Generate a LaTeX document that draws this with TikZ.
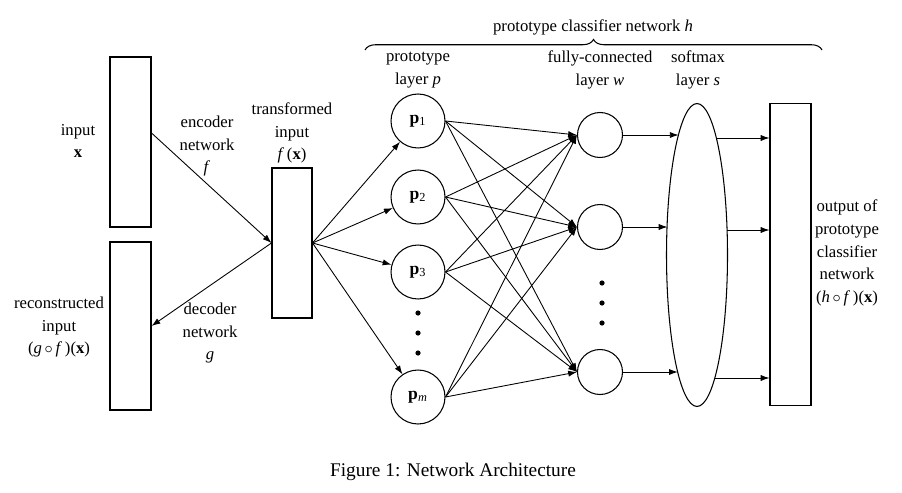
\documentclass[tikz,border=0pt]{standalone}
\usepackage{fontspec}
\setmainfont{Liberation Serif}
\usetikzlibrary{arrows.meta,shapes.geometric,decorations.pathreplacing,calc}

\begin{document}
\begin{tikzpicture}[x=0.02cm,y=-0.02cm]
	\tikzstyle{txt} = [align=center, font=\fontsize{9.5}{13}\selectfont, inner sep=0]
	\tikzstyle{box} = [draw, line width=0.6pt, minimum width=0.82cm, inner sep=0]
	\tikzstyle{proto} = [draw, circle, line width=0.6pt, minimum size=1.08cm, inner sep=0, font=\fontsize{10}{12}\selectfont]
	\tikzstyle{unit} = [draw, circle, line width=0.6pt, minimum size=0.9cm, inner sep=0]
	\tikzstyle{edge} = [draw, line width=0.5pt, -{Latex[length=5pt,width=3.5pt]}]
	\useasboundingbox (0,0) rectangle (902,493);

	% input, code and reconstruction
	\node[box, minimum height=3.4cm] (in) at (130.5,142) {};
	\node[box, minimum height=3.36cm] (rec) at (130.5,326) {};
	\node[box, minimum width=0.8cm, minimum height=3cm] (tr) at (292,243) {};
	\node[txt] (inlab) at (78,141) {input\\\textbf{x}};
	\node[txt] (reclab) at (59,327) {reconstructed\\input\\(\textit{g}\,$\circ$\,\textit{f}\,)(\textbf{x})};
	\node[txt] (enclab) at (207,146) {encoder\\network\\\textit{f}};
	\node[txt] (declab) at (210,333) {decoder\\network\\\textit{g}};
	\node[txt] (trlab) at (292,133) {transformed\\input\\\textit{f}\,(\textbf{x})};

	% prototype layer
	\node[proto] (p1) at (418,121) {\textbf{p}\textsubscript{1}};
	\node[proto] (p2) at (418,197) {\textbf{p}\textsubscript{2}};
	\node[proto] (p3) at (418,272) {\textbf{p}\textsubscript{3}};
	\node[proto] (pm) at (418,397) {\textbf{p}\textsubscript{\textit{m}}};
	\foreach \y in {313,333,353}
		\fill (418,\y) circle (2.6);

	% fully-connected layer
	\node[unit] (w1) at (600,135) {};
	\node[unit] (w2) at (600,227) {};
	\node[unit] (w3) at (600,372) {};
	\foreach \y in {283,303,323}
		\fill (602,\y) circle (2.6);

	% softmax and output
	\node[draw, ellipse, line width=0.6pt, minimum width=1.22cm, minimum height=6.06cm, inner sep=0] (s) at (697,255) {};
	\node[box, minimum height=6.06cm] (out) at (790.5,254.5) {};

	\node[txt] (plab) at (418,70) {prototype\\layer \textit{p}};
	\node[txt] (wlab) at (600,70) {fully-connected\\layer \textit{w}};
	\node[txt] (slab) at (698,70) {softmax\\layer \textit{s}};
	\node[txt] (outlab) at (847,253) {output of\\prototype\\classifier\\network\\(\textit{h}\,$\circ$\,\textit{f}\,)(\textbf{x})};
	\node[txt] (hlab) at (593,27) {prototype classifier network \textit{h}};
	\draw[line width=0.6pt, decorate, decoration={brace, amplitude=6pt}] (365,50) -- (822,50);

	\node[font=\fontsize{11}{13}\selectfont, inner sep=0] (cap) at (453,472) {Figure 1: Network Architecture};

	% points on the softmax ellipse
	\coordinate (s1) at ($(s.center)+(-18.4,-120)$);
	\coordinate (s2) at ($(s.center)+(-29.5,-28)$);
	\coordinate (s3) at ($(s.center)+(-19.2,117)$);
	\coordinate (t1) at ($(s.center)+(19.2,-117)$);
	\coordinate (t2) at ($(s.center)+(29.6,-25)$);
	\coordinate (t3) at ($(s.center)+(17.6,123)$);

	% connections
	\draw[edge] ([yshift=0.18cm]in.east) -- (tr.west);
	\draw[edge] (tr.west) -- (rec.east);
	\foreach \n in {p1,p2,p3,pm}
		\draw[edge] (tr.east) -- (\n);
	\foreach \a in {p1,p2,p3,pm}
		\foreach \b in {w1,w2,w3}
			\draw[edge] (\a.east) -- (\b.west);
	\draw[edge] (w1.east) -- (s1);
	\draw[edge] (w2.east) -- (s2);
	\draw[edge] (w3.east) -- (s3);
	\draw[edge] (t1) -- (t1 -| out.west);
	\draw[edge] (t2) -- (t2 -| out.west);
	\draw[edge] (t3) -- (t3 -| out.west);
\end{tikzpicture}
\end{document}
